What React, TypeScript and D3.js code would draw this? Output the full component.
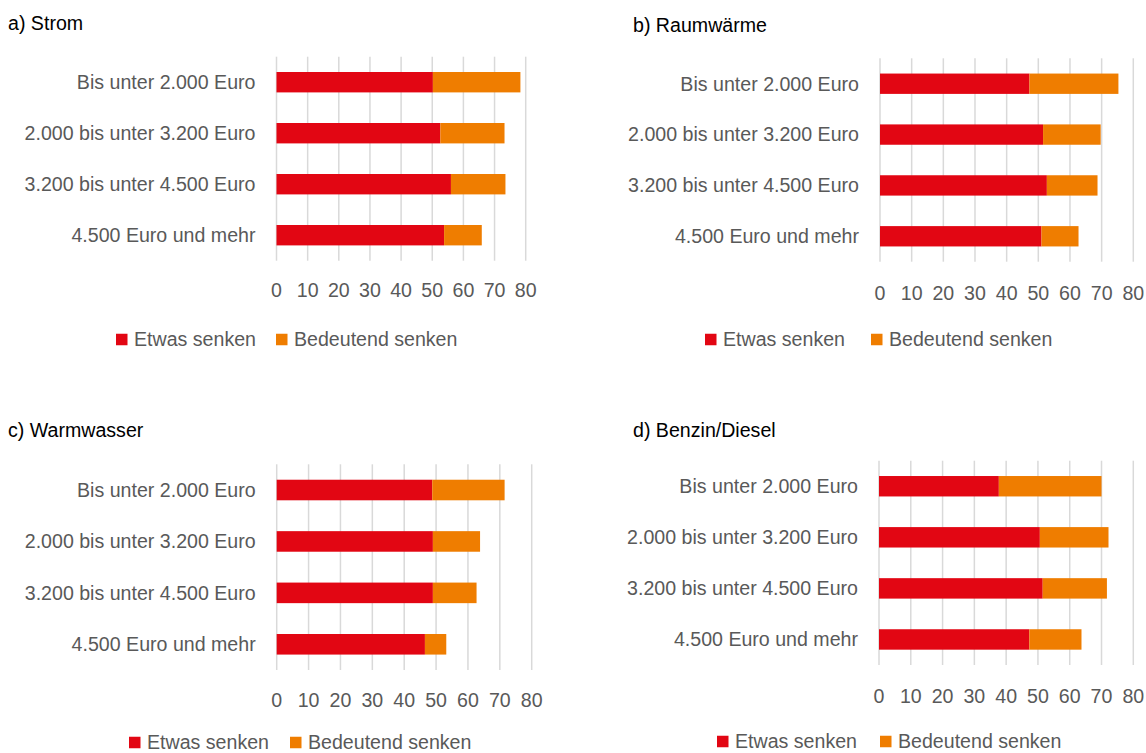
import React from "react";
import * as d3 from "d3";

const categories = [
  "Bis unter 2.000 Euro",
  "2.000 bis unter 3.200 Euro",
  "3.200 bis unter 4.500 Euro",
  "4.500 Euro und mehr",
];
const seriesNames = ["Etwas senken", "Bedeutend senken"];
const tickValues = [0, 10, 20, 30, 40, 50, 60, 70, 80];

const stromEtwas = [50.2, 52.6, 56.0, 53.8];
const stromBedeutend = [28.1, 20.6, 17.5, 12.1];
const raumEtwas = [47.2, 51.5, 52.7, 51.0];
const raumBedeutend = [28.1, 18.2, 16.0, 11.7];
const wasserEtwas = [48.8, 49.0, 49.0, 46.5];
const wasserBedeutend = [22.7, 14.8, 13.7, 6.7];
const benzinEtwas = [37.7, 50.6, 51.5, 47.3];
const benzinBedeutend = [32.3, 21.6, 20.2, 16.4];

const titles = ["a) Strom", "b) Raumwärme", "c) Warmwasser", "d) Benzin/Diesel"];

const RED = "#E20613";
const ORANGE = "#EF7D00";
const GRID = "#D9D9D9";
const TEXT = "#595959";
const FONT = "'Liberation Sans', Arial, sans-serif";
const FS = 19.6;

const layouts = [
  { x0: 276.5, x1: 525.7, yTop: 56.7, yBot: 260.7, titleX: 8, titleY: 23.3, tickY: 290, legendY: 339.5, legendX: 116, legendX2: 276 },
  { x0: 880, x1: 1133.3, yTop: 58.3, yBot: 261.7, titleX: 633, titleY: 25, tickY: 293, legendY: 339.5, legendX: 705, legendX2: 871 },
  { x0: 276.7, x1: 531.7, yTop: 464.3, yBot: 670, titleX: 8, titleY: 430, tickY: 700, legendY: 742.5, legendX: 129, legendX2: 290 },
  { x0: 879, x1: 1133.3, yTop: 460.7, yBot: 665, titleX: 633, titleY: 430, tickY: 696.5, legendY: 741.5, legendX: 717, legendX2: 880 },
];

const panelData = [
  [stromEtwas, stromBedeutend],
  [raumEtwas, raumBedeutend],
  [wasserEtwas, wasserBedeutend],
  [benzinEtwas, benzinBedeutend],
];

function Panel({ idx }: { idx: number }) {
  const L = layouts[idx];
  const [etwas, bedeutend] = panelData[idx];
  const x = d3.scaleLinear().domain([0, 80]).range([L.x0, L.x1]);
  const y = d3
    .scaleBand<string>()
    .domain(categories)
    .range([L.yTop, L.yBot])
    .paddingInner(0.6)
    .paddingOuter(0.3);
  const rows = categories.map((c, i) => ({ c, a: etwas[i], b: bedeutend[i] }));
  const stack = d3.stack<any>().keys(["a", "b"])(rows as any);
  const colors = [RED, ORANGE];
  const sq = 11.5;
  return (
    <g>
      <text x={L.titleX} y={L.titleY} dy="0.35em" fontSize={FS} fill="#000" fontFamily={FONT}>
        {titles[idx]}
      </text>
      {tickValues.map((t) => (
        <line key={t} x1={x(t)} x2={x(t)} y1={L.yTop} y2={L.yBot} stroke={GRID} strokeWidth={1.5} />
      ))}
      {stack.map((layer, li) =>
        layer.map((d, i) => (
          <rect
            key={`${li}-${i}`}
            x={x(d[0])}
            y={y(categories[i])}
            width={x(d[1]) - x(d[0])}
            height={y.bandwidth()}
            fill={colors[li]}
          />
        ))
      )}
      {categories.map((c) => (
        <text
          key={c}
          x={L.x0 - 21}
          y={(y(c) as number) + y.bandwidth() / 2}
          dy="0.35em"
          textAnchor="end"
          fontSize={FS}
          fill={TEXT}
          fontFamily={FONT}
        >
          {c}
        </text>
      ))}
      {tickValues.map((t) => (
        <text key={t} x={x(t)} y={L.tickY} dy="0.35em" textAnchor="middle" fontSize={FS} fill={TEXT} fontFamily={FONT}>
          {t}
        </text>
      ))}
      {[L.legendX, L.legendX2].map((lx, si) => (
        <g key={si}>
          <rect x={lx} y={L.legendY - sq / 2} width={sq} height={sq} fill={colors[si]} />
          <text x={lx + 18} y={L.legendY} dy="0.35em" fontSize={FS} fill={TEXT} fontFamily={FONT}>
            {seriesNames[si]}
          </text>
        </g>
      ))}
    </g>
  );
}

export default function App() {
  return (
    <svg
      width={1146}
      height={753}
      style={{ position: "absolute", left: 0, top: 0, background: "#fff" }}
    >
      <rect x={0} y={0} width={1146} height={753} fill="#fff" />
      {layouts.map((_, i) => (
        <Panel key={i} idx={i} />
      ))}
    </svg>
  );
}
